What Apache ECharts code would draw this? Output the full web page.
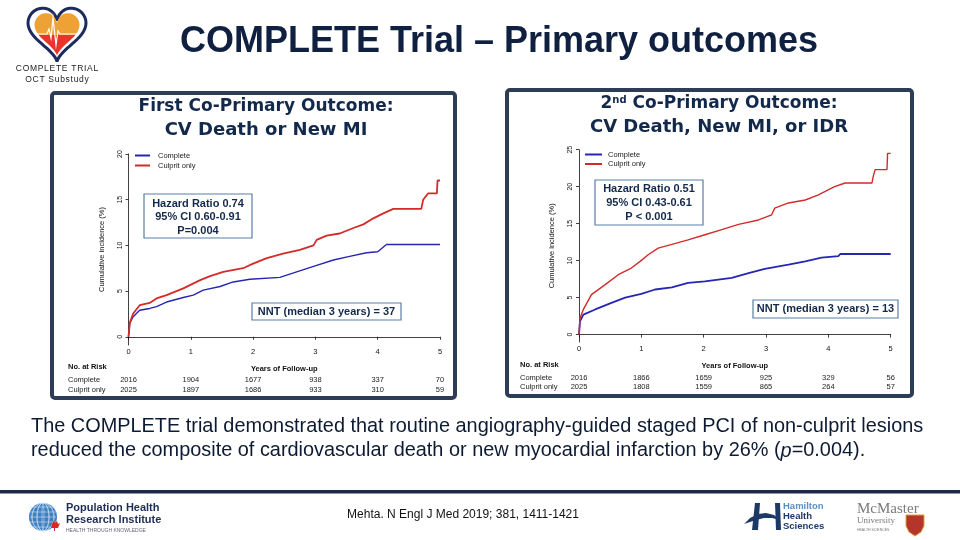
<!DOCTYPE html>
<html>
<head>
<meta charset="utf-8">
<script src="https://cdn.jsdelivr.net/npm/echarts@6/dist/echarts.min.js"></script>
<style>
html,body{margin:0;padding:0;background:#fff;}
#main{width:960px;height:540px;}
</style>
</head>
<body>
<div id="main"></div>
<script>
// ---------- data ----------
const years = [0, 1, 2, 3, 4, 5];
const yTicksLeft = [0, 5, 10, 15, 20];
const yTicksRight = [0, 5, 10, 15, 20, 25];

// First co-primary outcome: CV death or new MI  [years, %]
const cvMiComplete = [[0,0],[0.02,1.5],[0.075,2.2],[0.18,2.9],[0.34,3.1],[0.45,3.3],[0.61,3.8],[0.88,4.3],[1.04,4.56],[1.2,5.1],[1.47,5.5],[1.68,6.0],[1.95,6.3],[2.43,6.5],[2.7,7.1],[2.97,7.7],[3.29,8.4],[3.55,8.8],[3.82,9.2],[4.0,9.3],[4.14,10.1],[5,10.1]];
const cvMiCulprit = [[0,0],[0.02,1.5],[0.075,2.55],[0.18,3.45],[0.34,3.7],[0.45,4.2],[0.61,4.56],[0.88,5.3],[1.15,6.2],[1.31,6.64],[1.52,7.1],[1.84,7.5],[2.0,8.0],[2.22,8.6],[2.48,9.1],[2.75,9.5],[2.97,10.0],[3.02,10.6],[3.18,11.06],[3.39,11.3],[3.61,11.9],[3.77,12.3],[3.93,12.96],[4.09,13.5],[4.25,14.0],[4.7,14.0],[4.73,15.0],[4.81,15.7],[4.95,15.7],[4.96,17.1],[5,17.1]];

// Second co-primary outcome: CV death, new MI, or IDR  [years, %]
const idrComplete = [[0,0],[0.016,1.8],[0.07,2.7],[0.26,3.4],[0.52,4.3],[0.74,5.0],[1.0,5.5],[1.22,6.1],[1.49,6.4],[1.75,7.0],[2.02,7.2],[2.45,7.66],[2.72,8.3],[2.98,8.9],[3.36,9.46],[3.63,9.9],[3.89,10.4],[4.16,10.6],[4.19,10.9],[5,10.9]];
const idrCulprit = [[0,0],[0.016,2.25],[0.07,3.4],[0.2,5.4],[0.42,6.76],[0.63,8.1],[0.84,9.0],[0.98,9.9],[1.11,10.8],[1.27,11.7],[1.49,12.2],[1.75,12.8],[2.02,13.5],[2.29,14.2],[2.56,14.9],[2.88,15.5],[3.09,16.2],[3.14,17.1],[3.36,17.8],[3.63,18.2],[3.84,18.9],[4.1,20.0],[4.27,20.5],[4.7,20.5],[4.72,21.4],[4.75,22.3],[4.94,22.3],[4.95,24.5],[5,24.5]];

// Numbers at risk
const riskLeftComplete = [2016, 1904, 1677, 938, 337, 70];
const riskLeftCulprit  = [2025, 1897, 1686, 933, 310, 59];
const riskRightComplete = [2016, 1866, 1659, 925, 329, 56];
const riskRightCulprit  = [2025, 1808, 1559, 865, 264, 57];

// ---------- styling ----------
const BLUE = '#2626b2';
const RED = '#d42a2a';
const NAVY = '#13294b';
const FONT = 'Arial, "Liberation Sans", sans-serif';
const AX = '#111';

const chart = echarts.init(document.getElementById('main'), null, {renderer: 'canvas'});

function riskAxis(grid, arr, offset) {
  return {
    type: 'value', gridIndex: grid, min: 0, max: 5, interval: 1, position: 'bottom', offset: offset,
    axisLine: {show: false}, axisTick: {show: false}, splitLine: {show: false},
    axisLabel: {margin: 0, fontSize: 7.5, color: '#222', fontFamily: FONT, showMinLabel: true, showMaxLabel: true,
      formatter: v => { const i = years.indexOf(v); return i >= 0 ? String(arr[i]) : ''; }}
  };
}
function mainX(grid) {
  return {
    type: 'value', gridIndex: grid, min: 0, max: 5, interval: 1, position: 'bottom',
    name: 'Years of Follow-up', nameLocation: 'middle', nameGap: 20,
    nameTextStyle: {fontSize: 7.5, fontWeight: 'bold', color: '#111', fontFamily: FONT},
    axisLine: {show: true, lineStyle: {color: AX, width: 0.8}},
    axisTick: {show: true, length: 3, lineStyle: {color: AX, width: 0.8}},
    splitLine: {show: false},
    axisLabel: {margin: 3, fontSize: 7.5, color: '#111', fontFamily: FONT, formatter: v => String(v)}
  };
}
function mainY(grid, min, max, ticks) {
  return {
    type: 'value', gridIndex: grid, min: min, max: max,
    name: 'Cumulative incidence (%)', nameLocation: 'middle', nameGap: 23, nameRotate: 90,
    nameTextStyle: {fontSize: 7.5, color: '#111', fontFamily: FONT},
    axisLine: {show: true, lineStyle: {color: AX, width: 0.8}},
    axisTick: {show: true, length: 3, customValues: ticks, lineStyle: {color: AX, width: 0.8}},
    splitLine: {show: false},
    axisLabel: {customValues: ticks, rotate: 90, margin: 5, fontSize: 7, color: '#111', fontFamily: FONT}
  };
}
function line(name, data, color, w, xi, yi) {
  return {type: 'line', name: name, data: data, xAxisIndex: xi, yAxisIndex: yi, showSymbol: false, symbol: 'none',
    color: color, lineStyle: {color: color, width: w}, animation: false, z: 3};
}

// ---------- annotation graphics ----------
const g = [];
function heartPts(cx, top, w, h) {
  const pts = [];
  for (let i = 0; i < 80; i++) {
    const t = i / 80 * Math.PI * 2;
    const x = 16 * Math.pow(Math.sin(t), 3);
    const y = 13 * Math.cos(t) - 5 * Math.cos(2 * t) - 2 * Math.cos(3 * t) - Math.cos(4 * t);
    pts.push([cx + x / 32 * w, top + (12 - y) / 29 * h]);
  }
  return pts;
}
function ellPts(cx, cy, rx, ry) {
  const pts = [];
  for (let i = 0; i < 40; i++) { const t = i / 40 * Math.PI * 2; pts.push([cx + rx * Math.cos(t), cy + ry * Math.sin(t)]); }
  return pts;
}
function panel(x, y, w, h) {
  g.push({type: 'rect', shape: {x: x, y: y, width: w, height: h, r: 3}, style: {fill: 'none', stroke: '#2e3d57', lineWidth: 4}, z: 100});
}
function box(x, y, w, h, lines, fs, firstY, step) {
  g.push({type: 'rect', shape: {x: x, y: y, width: w, height: h}, style: {fill: '#fff', stroke: '#5b7ea6', lineWidth: 1.2}, z: 50});
  lines.forEach((t, i) => {
    g.push({type: 'text', x: x + w / 2, y: firstY + step * i, z: 51,
      style: {text: t, font: 'bold ' + fs + 'px ' + FONT, fill: NAVY, align: 'center', verticalAlign: 'middle'}});
  });
}
function txt(x, y, t, font, fill, align, extra) {
  g.push({type: 'text', x: x, y: y, z: 60,
    style: Object.assign({text: t, font: font, fill: fill, align: align || 'left', verticalAlign: 'middle'}, extra || {})});
}
const spaced = s => s.split('').join('\u200A');

// slide title
txt(499, 42, 'COMPLETE Trial \u2013 Primary outcomes', 'bold 36px ' + FONT, '#0f2040', 'center');

// logo (heart)
g.push({type: 'polygon', shape: {points: heartPts(57, 8, 58, 54)}, style: {fill: '#fff', stroke: '#1d2c5e', lineWidth: 3}, z: 10});
g.push({type: 'polygon', shape: {points: heartPts(57, 13, 45, 43)},
  style: {fill: {type: 'linear', x: 0, y: 0, x2: 0, y2: 1, colorStops: [{offset: 0, color: '#eea236'}, {offset: 0.5, color: '#eea236'}, {offset: 0.5, color: '#e8342c'}, {offset: 1, color: '#e8342c'}]}}, z: 11});
g.push({type: 'polyline', shape: {points: [[35, 34], [47, 34], [49, 29], [51, 38], [53, 18], [56, 45], [58, 31], [60, 34], [79, 34]]},
  style: {stroke: '#fff', lineWidth: 1.2, fill: 'none'}, z: 12});
txt(57, 69, spaced('COMPLETE TRIAL'), '8.5px ' + FONT, '#222', 'center');
txt(57, 80, spaced('OCT Substudy'), '8.5px ' + FONT, '#222', 'center');

// panels
panel(52, 93, 403, 305);
panel(507, 90, 405, 306);

// panel titles
txt(266, 107, 'First Co-Primary Outcome:', 'bold 17px "DejaVu Sans", Verdana, sans-serif', NAVY, 'center');
txt(266, 130, 'CV Death or New MI', 'bold 18px "DejaVu Sans", Verdana, sans-serif', NAVY, 'center');
g.push({type: 'text', x: 719, y: 104, z: 60, style: {text: '2{s|nd} Co-Primary Outcome:', font: 'bold 17px "DejaVu Sans", Verdana, sans-serif', fill: NAVY, align: 'center', verticalAlign: 'middle',
  rich: {s: {fontSize: 10, fontWeight: 'bold', fontFamily: '"DejaVu Sans", Verdana, sans-serif', fill: NAVY, verticalAlign: 'top', padding: [0, 0, 7, 0]}}}});
txt(719, 127, 'CV Death, New MI, or IDR', 'bold 18px "DejaVu Sans", Verdana, sans-serif', NAVY, 'center');

// HR & NNT boxes
box(144, 194, 108, 44, ['Hazard Ratio 0.74', '95% CI 0.60-0.91', 'P=0.004'], 11, 203.5, 13.5);
box(252, 303, 149, 17, ['NNT (median 3 years) = 37'], 11, 311.8, 0);
box(595, 180, 108, 45, ['Hazard Ratio 0.51', '95% CI 0.43-0.61', 'P < 0.001'], 11, 189, 14);
box(753, 300, 145, 18, ['NNT (median 3 years) = 13'], 11, 309.3, 0);

// at-risk row labels
txt(68, 367, 'No. at Risk', 'bold 7.5px ' + FONT, '#111');
txt(68, 380, 'Complete', '7.5px ' + FONT, '#222');
txt(68, 389.5, 'Culprit only', '7.5px ' + FONT, '#222');
txt(520, 365, 'No. at Risk', 'bold 7.5px ' + FONT, '#111');
txt(520, 378, 'Complete', '7.5px ' + FONT, '#222');
txt(520, 387, 'Culprit only', '7.5px ' + FONT, '#222');

// body text
txt(31, 427, 'The COMPLETE trial demonstrated that routine angiography-guided staged PCI of non-culprit lesions', '19.9px ' + FONT, '#0d1a33');
g.push({type: 'text', x: 31, y: 451, z: 60, style: {text: 'reduced the composite of cardiovascular death or new myocardial infarction by 26% ({i|p}=0.004).',
  font: '19.9px ' + FONT, fill: '#0d1a33', verticalAlign: 'middle', rich: {i: {fontStyle: 'italic', fontSize: 19.9, fontFamily: FONT, fill: '#0d1a33'}}}});

// footer
g.push({type: 'rect', shape: {x: 0, y: 490, width: 960, height: 3.5}, style: {fill: '#1b2a4a'}, z: 10});
txt(463, 515, 'Mehta. N Engl J Med 2019; 381, 1411-1421', '12px ' + FONT, '#111', 'center');

// PHRI logo
g.push({type: 'circle', shape: {cx: 43, cy: 517, r: 14}, style: {fill: '#3f7fc0'}, z: 10});
for (let k = -2; k <= 2; k++) {
  g.push({type: 'polygon', shape: {points: ellPts(43, 517, Math.abs(k) * 5 + 1, 14)}, style: {fill: 'none', stroke: '#cfe2f5', lineWidth: 0.6}, z: 11});
  g.push({type: 'line', shape: {x1: 30, y1: 517 + k * 5, x2: 56, y2: 517 + k * 5}, style: {stroke: '#cfe2f5', lineWidth: 0.6}, z: 11});
}
g.push({type: 'polygon', shape: {points: [[52,524],[54,520],[55,523],[57,521],[58,524],[60,523],[58,528],[55,528],[55,531],[54,531],[54,528],[51,528]]}, style: {fill: '#d42a2a'}, z: 12});
txt(66, 508, 'Population Health', 'bold 11px ' + FONT, '#1d2d55');
txt(66, 519.5, 'Research Institute', 'bold 11px ' + FONT, '#1d2d55');
txt(66, 531, 'HEALTH THROUGH KNOWLEDGE', '5px ' + FONT, '#667');

// Hamilton Health Sciences logo
g.push({type: 'polygon', shape: {points: [[752,530],[755,503],[760,503],[758,530]]}, style: {fill: '#1c3a66'}, z: 10});
g.push({type: 'polygon', shape: {points: [[775,503],[780,503],[781,530],[776,530]]}, style: {fill: '#1c3a66'}, z: 10});
g.push({type: 'polygon', shape: {points: [[744,524],[750,518],[758,514],[766,513],[774,515],[780,520],[772,518],[764,518],[756,520]]}, style: {fill: '#1c3a66'}, z: 10});
txt(783, 506.5, 'Hamilton', 'bold 9.5px ' + FONT, '#5b8ec4');
txt(783, 516.5, 'Health', 'bold 9.5px ' + FONT, '#1c3a66');
txt(783, 526.5, 'Sciences', 'bold 9.5px ' + FONT, '#1c3a66');

// McMaster logo
txt(857, 509, 'McMaster', '15px "Liberation Serif", "DejaVu Serif", serif', '#7a7a7a');
txt(857, 521, 'University', '9px "Liberation Serif", "DejaVu Serif", serif', '#7a7a7a');
txt(857, 530, 'HEALTH SCIENCES', '3.5px ' + FONT, '#777');
g.push({type: 'polygon', shape: {points: [[906,515],[924,515],[924,526],[921,532],[915,536],[909,532],[906,526]]}, style: {fill: '#b5352b', stroke: '#d8a63a', lineWidth: 1}, z: 10});

const option = {
  animation: false,
  backgroundColor: '#fff',
  textStyle: {fontFamily: FONT},
  grid: [
    {left: 128.5, right: 520, top: 154, bottom: 195, containLabel: false},
    {left: 579, right: 69.3, top: 149.7, bottom: 198, containLabel: false}
  ],
  xAxis: [
    mainX(0), riskAxis(0, riskLeftComplete, 31), riskAxis(0, riskLeftCulprit, 40.5),
    mainX(1), riskAxis(1, riskRightComplete, 32), riskAxis(1, riskRightCulprit, 41)
  ],
  yAxis: [mainY(0, -0.9, 20, yTicksLeft), mainY(1, -1, 25, yTicksRight)],
  legend: [
    {left: 135, top: 151.5, padding: 0, orient: 'vertical', itemGap: 2, itemWidth: 15, itemHeight: 2, icon: 'rect',
      textStyle: {fontSize: 7.5, color: '#222', fontFamily: FONT, padding: [0, 0, 0, 3]}, data: ['Complete', 'Culprit only'], selectedMode: false},
    {left: 585, top: 150.5, padding: 0, orient: 'vertical', itemGap: 1.5, itemWidth: 17, itemHeight: 2, icon: 'rect',
      textStyle: {fontSize: 7.5, color: '#222', fontFamily: FONT, padding: [0, 0, 0, 1]}, data: ['Complete', 'Culprit only'], selectedMode: false}
  ],
  series: [
    line('Complete', cvMiComplete, BLUE, 1.4, 0, 0),
    line('Culprit only', cvMiCulprit, RED, 1.8, 0, 0),
    line('Complete', idrComplete, BLUE, 1.8, 3, 1),
    line('Culprit only', idrCulprit, RED, 1.4, 3, 1)
  ],
  graphic: g
};
chart.setOption(option);
</script>
</body>
</html>
